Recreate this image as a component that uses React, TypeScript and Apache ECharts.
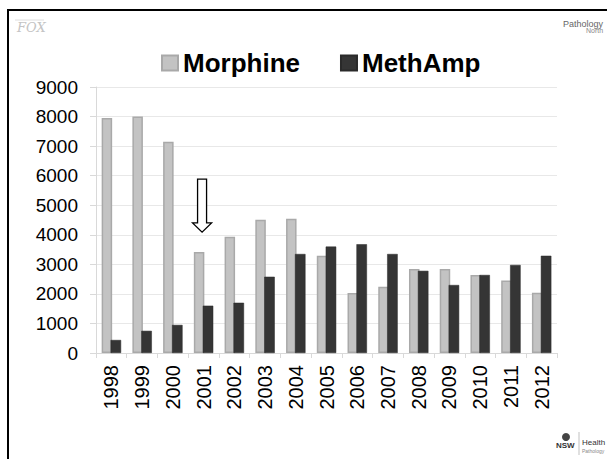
import React, { useEffect, useRef } from "react";
import * as echarts from "echarts";

const years = ["1998", "1999", "2000", "2001", "2002", "2003", "2004", "2005", "2006", "2007", "2008", "2009", "2010", "2011", "2012"];
const morphine = [7950, 8000, 7150, 3420, 3930, 4510, 4540, 3290, 2030, 2240, 2840, 2840, 2640, 2450, 2040];
const methAmp = [440, 750, 950, 1600, 1700, 2580, 3350, 3600, 3680, 3350, 2780, 2300, 2640, 2980, 3290];
const yTicks = { min: 0, max: 9000, interval: 1000 };
// arrow annotation: points at 2001, from value 5880 down to 4090
const arrow = { category: "2001", topValue: 5880, headValue: 4400, tipValue: 4090 };

const FONT = "'Liberation Sans', Arial, sans-serif";

export default function App() {
  const ref = useRef<HTMLDivElement>(null);
  useEffect(() => {
    if (!ref.current) return;
    const chart = echarts.init(ref.current, undefined, { renderer: "svg" });
    const option: any = {
      animation: false,
      backgroundColor: "#ffffff",
      textStyle: { fontFamily: FONT },
      legend: {
        left: 156,
        top: 45,
        itemWidth: 16,
        itemHeight: 15,
        itemGap: 40,
        icon: "rect",
        textStyle: { fontSize: 26, fontWeight: "bold", color: "#000", fontFamily: FONT },
        data: ["Morphine", "MethAmp"],
      },
      grid: { left: 96, top: 87, width: 461, height: 266, containLabel: false },
      xAxis: {
        type: "category",
        data: years,
        axisLine: { show: true, lineStyle: { color: "#d9d9d9", width: 1 } },
        axisTick: { show: true, alignWithLabel: false, length: 5, lineStyle: { color: "#d9d9d9" } },
        axisLabel: { rotate: 90, fontSize: 20, color: "#000", margin: 12, fontFamily: FONT },
      },
      yAxis: {
        type: "value",
        min: yTicks.min,
        max: yTicks.max,
        interval: yTicks.interval,
        axisLine: { show: true, lineStyle: { color: "#d9d9d9", width: 1 } },
        axisTick: { show: true, length: 6, lineStyle: { color: "#d9d9d9" } },
        axisLabel: {
          fontSize: 19,
          color: "#000",
          margin: 18,
          fontFamily: FONT,
          formatter: (v: number) => String(v),
        },
        splitLine: { show: true, lineStyle: { color: "#e8e8e8", width: 1 } },
      },
      series: [
        {
          name: "Morphine",
          type: "bar",
          data: morphine,
          barWidth: 10.5,
          barGap: "-15%",
          itemStyle: { color: "#c3c3c3", borderColor: "#a9a9a9", borderWidth: 1.5 },
        },
        {
          name: "MethAmp",
          type: "bar",
          data: methAmp,
          barWidth: 10.5,
          barGap: "-15%",
          z: 3,
          itemStyle: { color: "#353535", borderColor: "#2a2a2a", borderWidth: 0.5 },
        },
      ],
    };
    chart.setOption(option);

    const top = chart.convertToPixel({ gridIndex: 0 } as any, [arrow.category, arrow.topValue]) as number[];
    const head = chart.convertToPixel({ gridIndex: 0 } as any, [arrow.category, arrow.headValue]) as number[];
    const tip = chart.convertToPixel({ gridIndex: 0 } as any, [arrow.category, arrow.tipValue]) as number[];
    const cx = top[0] - 1.5;
    const sw = 4.5;
    const hw = 9.5;

    chart.setOption({
      graphic: [
        // slide frame
        { type: "line", shape: { x1: 7, y1: 10, x2: 607, y2: 10 }, style: { stroke: "#000", lineWidth: 2 } },
        { type: "line", shape: { x1: 8, y1: 9, x2: 8, y2: 459 }, style: { stroke: "#000", lineWidth: 2 } },
        // arrow annotation
        {
          type: "polygon",
          shape: {
            points: [
              [cx - sw, top[1]],
              [cx + sw, top[1]],
              [cx + sw, head[1]],
              [cx + hw, head[1]],
              [cx, tip[1]],
              [cx - hw, head[1]],
              [cx - sw, head[1]],
            ],
          },
          style: { fill: "#fff", stroke: "#000", lineWidth: 1.3 },
          z: 10,
        },
        // top-left logo
        {
          type: "text",
          left: 17,
          top: 21,
          style: { text: "FOX", fontSize: 13, fontFamily: "'DejaVu Serif', serif", fontStyle: "italic", fill: "#c4c4c4" },
        },
        { type: "line", shape: { x1: 15, y1: 20, x2: 44, y2: 20 }, style: { stroke: "#d6d6d6", lineWidth: 0.8 } },
        // top-right logo
        {
          type: "text",
          left: 563,
          top: 19,
          style: { text: "Pathology", fontSize: 9, fontFamily: FONT, fill: "#666" },
        },
        {
          type: "text",
          left: 586,
          top: 27,
          style: { text: "North", fontSize: 7, fontFamily: FONT, fill: "#888" },
        },
        // bottom-right logo
        {
          type: "text",
          left: 556,
          top: 441,
          style: { text: "NSW", fontSize: 8, fontWeight: "bold", fontFamily: FONT, fill: "#333" },
        },
        { type: "circle", shape: { cx: 566, cy: 437, r: 4 }, style: { fill: "#444" } },
        { type: "line", shape: { x1: 579, y1: 432, x2: 579, y2: 455 }, style: { stroke: "#999", lineWidth: 0.6 } },
        {
          type: "text",
          left: 582,
          top: 438,
          style: { text: "Health", fontSize: 8, fontFamily: FONT, fill: "#333" },
        },
        {
          type: "text",
          left: 582,
          top: 448,
          style: { text: "Pathology", fontSize: 5, fontFamily: FONT, fill: "#888" },
        },
      ],
    });

    return () => chart.dispose();
  }, []);
  return (
    <div
      ref={ref}
      style={{ position: "fixed", left: 0, top: 0, width: 607, height: 459, background: "#fff" }}
    />
  );
}
